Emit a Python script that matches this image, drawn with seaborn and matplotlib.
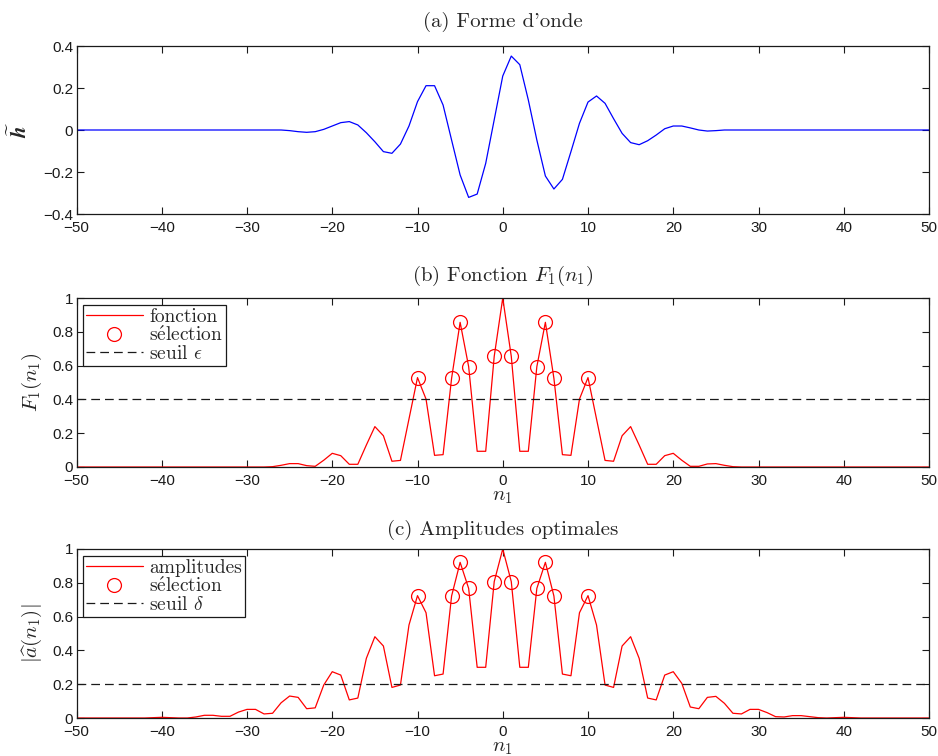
import numpy as np
import matplotlib
matplotlib.use('Agg')
import matplotlib.pyplot as plt
import seaborn as sns
from matplotlib.font_manager import FontProperties

# ===============================
# Data
# ===============================
n_all = np.arange(-50, 51)

# (a) waveform, n = -26 .. 26 (flat zero elsewhere)
h_core = [0.0, -0.003, -0.008, -0.011, -0.008, 0.003, 0.019, 0.035, 0.040, 0.024,
          -0.013, -0.056, -0.103, -0.111, -0.067, 0.019, 0.135, 0.211, 0.211, 0.119,
          -0.048, -0.214, -0.321, -0.305, -0.159, 0.049, 0.257, 0.352, 0.311, 0.143,
          -0.048, -0.219, -0.281, -0.235, -0.103, 0.032, 0.133, 0.162, 0.127, 0.054,
          -0.016, -0.060, -0.070, -0.051, -0.024, 0.006, 0.019, 0.019, 0.010, 0.0,
          -0.005, -0.003, 0.0]
h = np.array([0.0] * 24 + h_core + [0.0] * 24)

# (b) F1(n1), n = -27 .. 27 (zero elsewhere)
f_core = [0.002, 0.010, 0.020, 0.020, 0.008, 0.004, 0.040, 0.081, 0.067, 0.016,
          0.016, 0.130, 0.239, 0.185, 0.034, 0.039, 0.284, 0.529, 0.402, 0.069,
          0.073, 0.525, 0.856, 0.594, 0.093, 0.093, 0.655, 1.0, 0.655, 0.093,
          0.093, 0.594, 0.856, 0.525, 0.073, 0.069, 0.402, 0.529, 0.284, 0.039,
          0.034, 0.185, 0.239, 0.130, 0.016, 0.016, 0.067, 0.081, 0.040, 0.004,
          0.004, 0.018, 0.020, 0.010, 0.002]
F1 = np.array([0.0] * 23 + f_core + [0.0] * 23)

# (c) |a(n1)|, n = -42 .. 42 (zero elsewhere)
a_core = [0.0, 0.002, 0.004, 0.002, 0.0, 0.0, 0.006, 0.016, 0.016, 0.010,
          0.010, 0.035, 0.051, 0.051, 0.024, 0.028, 0.090, 0.130, 0.122, 0.055,
          0.060, 0.195, 0.274, 0.254, 0.107, 0.118, 0.353, 0.481, 0.426, 0.181,
          0.195, 0.550, 0.724, 0.623, 0.250, 0.260, 0.722, 0.921, 0.767, 0.300,
          0.300, 0.807, 1.0, 0.807, 0.300, 0.300, 0.767, 0.921, 0.722, 0.260,
          0.250, 0.623, 0.724, 0.550, 0.195, 0.181, 0.426, 0.481, 0.353, 0.118,
          0.107, 0.254, 0.274, 0.205, 0.065, 0.055, 0.122, 0.128, 0.087, 0.028,
          0.024, 0.051, 0.051, 0.032, 0.008, 0.006, 0.014, 0.014, 0.008, 0.002,
          0.0, 0.002, 0.004, 0.002, 0.0]
amp = np.array([0.0] * 8 + a_core + [0.0] * 8)

sel_n = [-10, -6, -5, -4, -1, 1, 4, 5, 6, 10]
seuil_eps = 0.4
seuil_delta = 0.2

x_ticks = [-50, -40, -30, -20, -10, 0, 10, 20, 30, 40, 50]
x_ticklabels = ['\u221250', '\u221240', '\u221230', '\u221220', '\u221210', '0', '10', '20', '30', '40', '50']
ya_ticks = [-0.4, -0.2, 0, 0.2, 0.4]
ya_ticklabels = ['\u22120.4', '\u22120.2', '0', '0.2', '0.4']
yb_ticks = [0, 0.2, 0.4, 0.6, 0.8, 1]
yb_ticklabels = ['0', '0.2', '0.4', '0.6', '0.8', '1']

# ===============================
# Style
# ===============================
sns.set_theme(style='ticks')
plt.rcParams['font.family'] = ['Liberation Sans', 'DejaVu Sans']
plt.rcParams['mathtext.fontset'] = 'cm'
plt.rcParams['axes.unicode_minus'] = True

serif = ['cmr10', 'DejaVu Serif']
leg_prop = FontProperties(family='cmr10', size=14)
red = '#ff0000'
blue = '#0000ff'


def style_axes(ax, yticks, ylabels, ylim):
    ax.set_xlim(-50, 50)
    ax.set_ylim(*ylim)
    ax.set_xticks(x_ticks)
    ax.set_xticklabels(x_ticklabels)
    ax.set_yticks(yticks)
    ax.set_yticklabels(ylabels)
    ax.tick_params(direction='in', top=True, right=True, length=5, width=0.8,
                   colors='k', labelsize=11)
    ax.tick_params(axis='x', pad=5)
    ax.tick_params(axis='y', pad=2.5)
    for sp in ax.spines.values():
        sp.set_color('k')
        sp.set_linewidth(0.9)
    ax.grid(False)


def add_legend(ax):
    leg = ax.legend(loc='upper left', prop=leg_prop, frameon=True, fancybox=False,
                    edgecolor='k', framealpha=1, borderaxespad=0.35, handlelength=2.9,
                    handletextpad=0.35, borderpad=0.15, labelspacing=0.0)
    leg.get_frame().set_linewidth(0.9)


fig = plt.figure(figsize=(9.38, 7.56), dpi=100)
L, W = 76.5 / 938, (929 - 76.5) / 938

# (a) Forme d'onde
ax1 = fig.add_axes([L, 1 - 214 / 756, W, 168 / 756])
sns.lineplot(x=n_all, y=h, ax=ax1, color=blue, lw=0.9, estimator=None, sort=False)
style_axes(ax1, ya_ticks, ya_ticklabels, (-0.4, 0.4))
ax1.set_title("(a) Forme d'onde", fontfamily=serif, fontsize=15, pad=14)
ax1.set_ylabel(r'$\widetilde{\boldsymbol{h}}$', fontsize=15, labelpad=9)

# (b) Fonction F1(n1)
ax2 = fig.add_axes([L, 1 - 467 / 756, W, 169 / 756])
sns.lineplot(x=n_all, y=F1, ax=ax2, color=red, lw=0.9, estimator=None, sort=False,
             label='fonction')
sel_F = F1[np.isin(n_all, sel_n)]
sns.lineplot(x=sel_n, y=sel_F, ax=ax2, color=red, marker='o', ls='none', ms=10,
             mfc='none', mec=red, mew=0.9, estimator=None, sort=False,
             label=r's$\mathrm{\acute{e}}$lection')
ax2.axhline(seuil_eps, color='k', lw=0.9, dashes=(7, 4), label=r'seuil $\epsilon$')
style_axes(ax2, yb_ticks, yb_ticklabels, (0, 1))
ax2.set_title(r'(b) Fonction $F_1(n_1)$', fontfamily=serif, fontsize=15, pad=12)
ax2.set_ylabel(r'$F_1(n_1)$', fontsize=15, labelpad=6)
ax2.set_xlabel(r'$n_1$', fontsize=15, labelpad=-1)
add_legend(ax2)

# (c) Amplitudes optimales
ax3 = fig.add_axes([L, 1 - 718 / 756, W, 169 / 756])
sns.lineplot(x=n_all, y=amp, ax=ax3, color=red, lw=0.9, estimator=None, sort=False,
             label='amplitudes')
sel_a = amp[np.isin(n_all, sel_n)]
sns.lineplot(x=sel_n, y=sel_a, ax=ax3, color=red, marker='o', ls='none', ms=10,
             mfc='none', mec=red, mew=0.9, estimator=None, sort=False,
             label=r's$\mathrm{\acute{e}}$lection')
ax3.axhline(seuil_delta, color='k', lw=0.9, dashes=(7, 4), label=r'seuil $\delta$')
style_axes(ax3, yb_ticks, yb_ticklabels, (0, 1))
ax3.set_title('(c) Amplitudes optimales', fontfamily=serif, fontsize=15, pad=10)
ax3.set_ylabel(r'$|\widehat{a}(n_1)|$', fontsize=15, labelpad=6)
ax3.set_xlabel(r'$n_1$', fontsize=15, labelpad=-1)
add_legend(ax3)

fig.savefig('out.png', dpi=100, facecolor='white')
